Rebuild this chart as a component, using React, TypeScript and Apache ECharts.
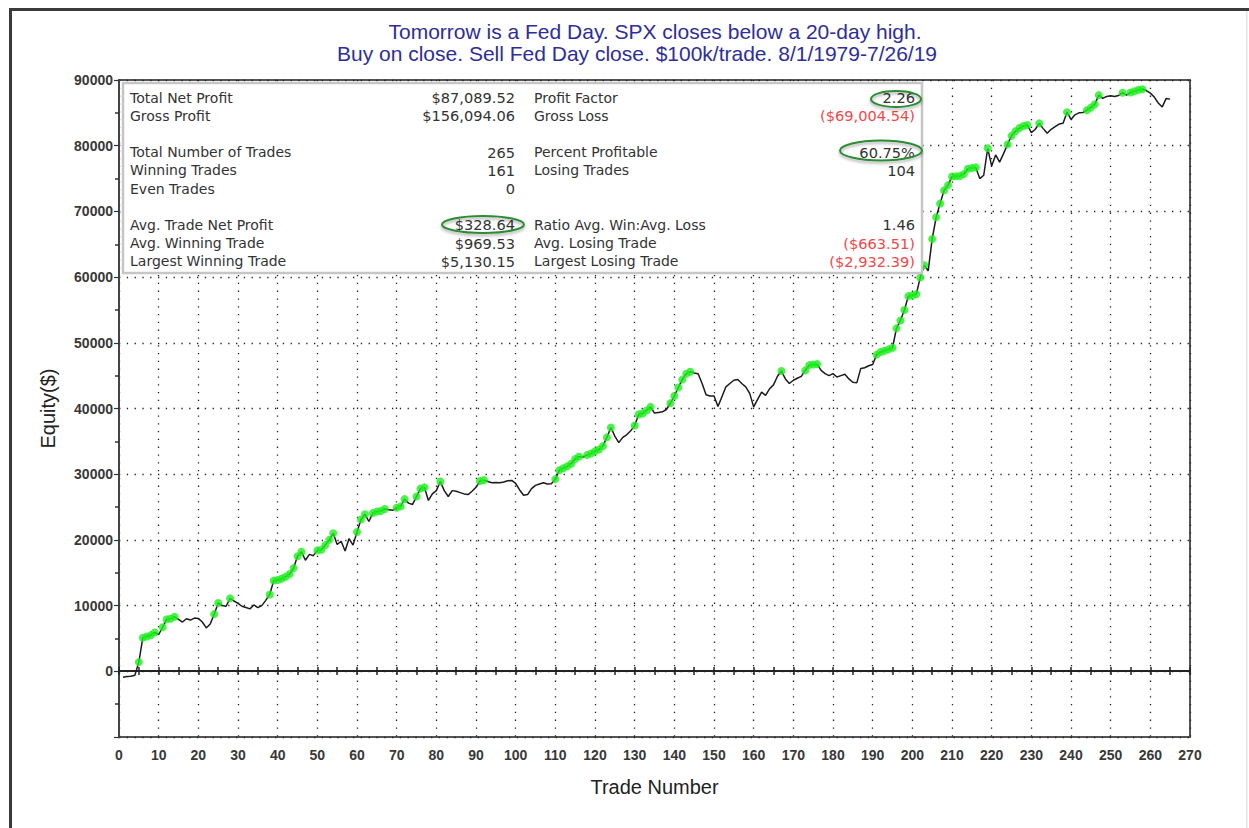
import React, { useEffect, useRef } from "react";
import * as echarts from "echarts";

// Equity (cumulative net profit, $) after each trade, trade 1..265
const equity = [
  -900, -800, -750, -600, 1400, 5100, 5300, 5500, 5900, 5600,
  6700, 7900, 8000, 8300, 7900, 7500, 8000, 7800, 8100, 8050,
  7500, 6600, 7200, 8700, 10400, 10000, 9900, 11100, 10700, 10350,
  9900, 9700, 9500, 10100, 9700, 10000, 10800, 11700, 13800, 13900,
  14100, 14400, 14800, 15700, 17500, 18200, 16900, 17800, 17600, 18400,
  18500, 19200, 20000, 21000, 19300, 19800, 18300, 20200, 19200, 21200,
  23100, 23900, 22800, 24100, 24300, 24400, 24700, 24600, 24500, 24900,
  25100, 26200, 25600, 25400, 26600, 27800, 28000, 26000, 27000, 27500,
  28900, 27500, 26600, 27500, 27400, 27200, 27000, 26900, 27400, 28000,
  28950, 29100, 28900, 28700, 28750, 28700, 28800, 29000, 29050, 28600,
  27600, 26800, 26900, 27800, 28300, 28500, 28700, 28500, 28550, 29250,
  30600, 30900, 31200, 31600, 32300, 32700, 32600, 32900, 33150, 33500,
  33750, 34300, 35600, 37100, 35800, 34800, 35600, 36000, 36600, 37400,
  39100, 39250, 39700, 40250, 39300, 39400, 39500, 39850, 40800, 41900,
  43200, 44400, 45300, 45600, 45400, 45300, 43800, 42100, 41900, 41900,
  40300, 41800, 43300, 43800, 44300, 44400, 43800, 43300, 42300, 40250,
  41400, 42500, 42000, 43000, 43600, 44900, 45700, 44500, 43800, 44300,
  44600, 44900, 45800, 46600, 46700, 46750, 45800, 45300, 45000, 45300,
  44800, 45000, 45200, 44500, 44000, 43900, 46100, 46200, 46500, 46700,
  48200, 48600, 48800, 49000, 49250, 52200, 53400, 55000, 57100, 57200,
  57400, 59950, 61800, 60960, 65800, 69100, 71200, 73200, 74000, 75300,
  75350, 75400, 75700, 76500, 76600, 76700, 75000, 75500, 79600, 76900,
  78600, 77500, 78800, 80200, 81500, 82200, 82700, 83000, 83150, 82000,
  82500, 83400, 82600, 81900, 82500, 82900, 83300, 83400, 85100, 84000,
  84700, 85000, 85050, 85400, 85800, 86300, 87700, 87200, 87500, 87600,
  87500, 87650, 88070, 87700, 88100, 88300, 88500, 88600, 88400, 88000,
  87400, 86500, 85900, 87200, 87090,
];

const titleLine1 = "Tomorrow is a Fed Day. SPX closes below a 20-day high.";
const titleLine2 = "Buy on close. Sell Fed Day close. $100k/trade. 8/1/1979-7/26/19";
const xName = "Trade Number";
const yName = "Equity($)";

// Performance summary (row index within the summary box)
const statRows = [0, 1, 3, 4, 5, 7, 8, 9];
const leftLabels = [
  "Total Net Profit", "Gross Profit", "Total Number of Trades", "Winning Trades",
  "Even Trades", "Avg. Trade Net Profit", "Avg. Winning Trade", "Largest Winning Trade",
];
const leftValues = [
  "$87,089.52", "$156,094.06", "265", "161", "0", "$328.64", "$969.53", "$5,130.15",
];
const rightLabels = [
  "Profit Factor", "Gross Loss", "Percent Profitable", "Losing Trades", "",
  "Ratio Avg. Win:Avg. Loss", "Avg. Losing Trade", "Largest Losing Trade",
];
const rightValues = [
  "2.26", "($69,004.54)", "60.75%", "104", "", "1.46", "($663.51)", "($2,932.39)",
];
const rightNegative = [false, true, false, false, false, false, true, true];

export default function App() {
  const ref = useRef<HTMLDivElement>(null);

  useEffect(() => {
    if (!ref.current) return;
    const chart = echarts.init(ref.current, undefined, { renderer: "svg" });

    const lineData = equity.map((v, i) => [i + 1, v]);
    const highs: number[][] = [];
    let peak = 0;
    equity.forEach((v, i) => {
      if (v > peak) {
        highs.push([i + 1, v]);
        peak = v;
      }
    });

    const statFont = '14px "DejaVu Sans"';
    const valFont = '14.6px "DejaVu Sans"';
    const rowY = (r: number) => 97.5 + r * 18.2;
    const texts: any[] = [];
    statRows.forEach((r, k) => {
      const y = rowY(r);
      texts.push({
        type: "text", x: 130, y, z: 110,
        style: { text: leftLabels[k], font: statFont, fill: "#333", align: "left", verticalAlign: "middle" },
      });
      texts.push({
        type: "text", x: 515, y, z: 110,
        style: { text: leftValues[k], font: valFont, fill: "#333", align: "right", verticalAlign: "middle" },
      });
      if (rightLabels[k]) {
        texts.push({
          type: "text", x: 534, y, z: 110,
          style: { text: rightLabels[k], font: statFont, fill: "#333", align: "left", verticalAlign: "middle" },
        });
        texts.push({
          type: "text", x: 915, y, z: 110,
          style: {
            text: rightValues[k], font: valFont,
            fill: rightNegative[k] ? "#f24848" : "#333", align: "right", verticalAlign: "middle",
          },
        });
      }
    });

    const ellipseStyle = {
      fill: "none", stroke: "#2e8b34", lineWidth: 2,
      shadowBlur: 3, shadowColor: "rgba(0,0,0,0.35)", shadowOffsetY: 2,
    };

    const tickFont = { fontFamily: "Liberation Sans", fontSize: 14, fontWeight: "bold" as const, color: "#383838" };
    const dotted = { color: "#222", width: 1.3, type: [1.3, 6.5] as number[] };
    const zeroTick = { show: true, length: 4, lineStyle: { color: "#222", width: 1.5 } };

    chart.setOption({
      animation: false,
      backgroundColor: "#fff",
      title: [
        {
          text: titleLine1, left: 655, top: 21, textAlign: "center", padding: 0,
          textStyle: { fontFamily: "Liberation Sans", fontSize: 21, fontWeight: "normal", color: "#2e2e9a" },
        },
        {
          text: titleLine2, left: 637, top: 43, textAlign: "center", padding: 0,
          textStyle: { fontFamily: "Liberation Sans", fontSize: 21, fontWeight: "normal", color: "#2e2e9a" },
        },
      ],
      grid: [
        {
          left: 119, top: 80, width: 1071, height: 657,
          show: true, borderColor: "#555", borderWidth: 2,
          containLabel: false, outerBoundsMode: "none",
        },
        // band above the zero line (for the downward ticks of the zero axis)
        { left: 119, top: 80, width: 1071, height: 591, show: false, containLabel: false, outerBoundsMode: "none" },
        // band below the zero line (for the upward ticks of the zero axis)
        { left: 119, top: 671, width: 1071, height: 66, show: false, containLabel: false, outerBoundsMode: "none" },
      ],
      xAxis: [
        {
          gridIndex: 0, type: "value", min: 0, max: 270, interval: 10, position: "bottom",
          name: xName, nameLocation: "middle", nameGap: 40,
          nameTextStyle: { fontFamily: "Liberation Sans", fontSize: 20, color: "#222" },
          axisLine: { show: false, onZero: false },
          axisTick: { show: false },
          axisLabel: { margin: 11, ...tickFont },
          splitLine: { show: true, lineStyle: dotted },
        },
        {
          gridIndex: 1, type: "value", min: 0, max: 270, interval: 5, position: "bottom",
          axisLine: { show: true, onZero: false, lineStyle: { color: "#222", width: 2 } },
          axisTick: zeroTick,
          axisLabel: { show: false },
          splitLine: { show: false },
        },
        {
          gridIndex: 2, type: "value", min: 0, max: 270, interval: 5, position: "top",
          axisLine: { show: false, onZero: false },
          axisTick: zeroTick,
          axisLabel: { show: false },
          splitLine: { show: false },
        },
      ],
      yAxis: [
        {
          gridIndex: 0, type: "value", min: -10000, max: 90000, interval: 10000,
          name: yName, nameLocation: "middle", nameGap: 61, nameRotate: 90,
          nameTextStyle: { fontFamily: "Liberation Sans", fontSize: 20, color: "#222" },
          axisLine: { show: true, lineStyle: { color: "#444", width: 2 } },
          axisTick: { show: true, length: 5, lineStyle: { color: "#333", width: 1.2 } },
          minorTick: { show: true, splitNumber: 2, length: 4, lineStyle: { color: "#333", width: 1.5 } },
          axisLabel: {
            margin: 6, ...tickFont,
            formatter: (v: number) => (v < 0 ? "" : String(v)),
          },
          splitLine: { show: true, lineStyle: dotted },
        },
        { gridIndex: 1, type: "value", min: 0, max: 1, show: false },
        { gridIndex: 2, type: "value", min: 0, max: 1, show: false },
      ],
      series: [
        {
          type: "line", data: lineData, showSymbol: false, z: 3,
          xAxisIndex: 0, yAxisIndex: 0,
          lineStyle: { color: "#1c1c1c", width: 1.5 },
        },
        {
          type: "scatter", data: highs, symbolSize: 8, z: 4,
          xAxisIndex: 0, yAxisIndex: 0,
          itemStyle: { color: "#1def1d" },
        },
      ],
      graphic: [
        {
          type: "rect", z: 100,
          shape: { x: 123, y: 83, width: 799, height: 190 },
          style: { fill: "#fff", stroke: "#c6c6c6", lineWidth: 2.5 },
        },
        ...texts,
        { type: "ellipse", z: 120, shape: { cx: 483, cy: 224.5, rx: 41, ry: 8.5 }, style: ellipseStyle },
        { type: "ellipse", z: 120, shape: { cx: 896, cy: 99, rx: 25, ry: 8 }, style: ellipseStyle },
        { type: "ellipse", z: 120, shape: { cx: 881, cy: 150.5, rx: 41, ry: 10 }, style: ellipseStyle },
        { type: "rect", z: 200, shape: { x: 9, y: 8, width: 1240, height: 3 }, style: { fill: "#3a3a3a" } },
        { type: "rect", z: 200, shape: { x: 9, y: 8, width: 3, height: 820 }, style: { fill: "#3a3a3a" } },
        { type: "rect", z: 200, shape: { x: 1246, y: 11, width: 1.5, height: 817 }, style: { fill: "#e4e4e4" } },
      ],
    });

    return () => chart.dispose();
  }, []);

  return (
    <div
      ref={ref}
      style={{ position: "fixed", left: 0, top: 0, width: 1249, height: 828, background: "#fff" }}
    />
  );
}
